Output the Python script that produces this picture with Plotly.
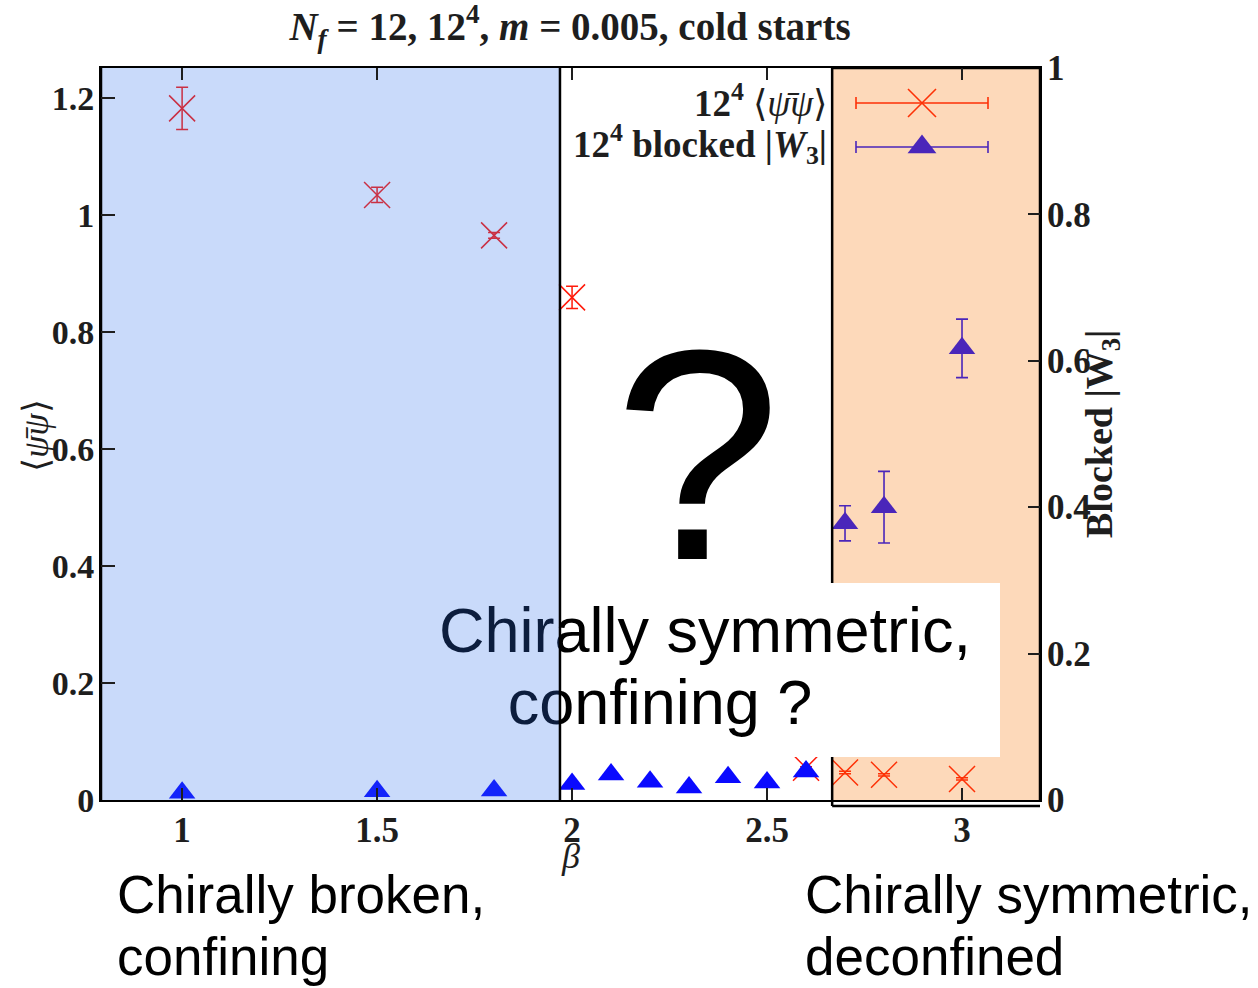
import plotly.graph_objects as go

# ---- data ---------------------------------------------------------------
# chiral condensate <psibar psi> (left axis)
beta_pbp = [1.0, 1.5, 1.8, 2.0, 2.6, 2.7, 2.8, 3.0]
pbp_val = [1.182, 1.034, 0.965, 0.859, 0.055, 0.047, 0.043, 0.036]
pbp_err = [0.036, 0.013, 0.005, 0.019, 0.002, 0.002, 0.002, 0.002]

# blocked Wilson line |W3| (right axis)
beta_w3 = [1.0, 1.5, 1.8, 2.0, 2.1, 2.2, 2.3, 2.4, 2.5, 2.6, 2.7, 2.8, 3.0]
w3_val = [0.010, 0.012, 0.013, 0.022, 0.035, 0.025, 0.017, 0.031, 0.024, 0.039, 0.378, 0.400, 0.617]
w3_err = [0.002, 0.002, 0.002, 0.002, 0.002, 0.002, 0.002, 0.002, 0.002, 0.002, 0.024, 0.049, 0.040]

# ticks
x_tick_vals = [1, 1.5, 2, 2.5, 3]
x_tick_text = ["1", "1.5", "2", "2.5", "3"]
y_tick_vals = [0, 0.2, 0.4, 0.6, 0.8, 1.0, 1.2]
y_tick_text = ["0", "0.2", "0.4", "0.6", "0.8", "1", "1.2"]
y2_tick_vals = [0, 0.2, 0.4, 0.6, 0.8, 1.0]
y2_tick_text = ["0", "0.2", "0.4", "0.6", "0.8", "1"]

# phase regions in beta
broken_region = [0.792, 1.969]
deconf_region = [2.667, 3.2]

# ---- layout geometry (pixels) --------------------------------------------
W, H = 1258, 988
PL, PR, PT, PB = 101, 1040, 68, 800
X_RANGE = [0.792, 3.2]
Y_RANGE = [0, 1.251]
Y2_RANGE = [0, 1]


def paper_x(px):
    return (px - PL) / (PR - PL)


def paper_y(py):
    return (PB - py) / (PB - PT)


def data_x(px):
    return X_RANGE[0] + (px - PL) / (PR - PL) * (X_RANGE[1] - X_RANGE[0])


def data_y2(py):
    return Y2_RANGE[0] + (PB - py) / (PB - PT) * (Y2_RANGE[1] - Y2_RANGE[0])


RED = "#ff1a0a"
BLUE = "#0a0aff"
INK = "#1e1e1e"
SERIF = "Liberation Serif"
SANS = "Liberation Sans"

fig = go.Figure()

# condensate: red crosses with vertical error bars
fig.add_trace(go.Scatter(
    x=beta_pbp, y=pbp_val, mode="markers", yaxis="y", xaxis="x",
    marker=dict(symbol="x-thin", size=26, line=dict(color=RED, width=1.5)),
    error_y=dict(type="data", array=pbp_err, color=RED, thickness=1.5, width=6),
    hoverinfo="skip", showlegend=False,
))

# blocked |W3|: blue triangles
fig.add_trace(go.Scatter(
    x=beta_w3, y=w3_val, mode="markers", yaxis="y2", xaxis="x",
    marker=dict(symbol="triangle-up", size=23, color=BLUE, line=dict(width=0)),
    error_y=dict(type="data", array=w3_err, color=BLUE, thickness=1.6, width=6),
    hoverinfo="skip", showlegend=False,
))

# legend keys (drawn in the upper right corner)
LEG_X = data_x(922)
LEG_HALF = data_x(988) - data_x(922)
fig.add_trace(go.Scatter(
    x=[LEG_X], y=[data_y2(103)], mode="markers", yaxis="y2",
    marker=dict(symbol="x-thin", size=28, line=dict(color=RED, width=1.6)),
    error_x=dict(type="data", array=[LEG_HALF], color=RED, thickness=1.6, width=6),
    hoverinfo="skip", showlegend=False,
))
fig.add_trace(go.Scatter(
    x=[LEG_X], y=[data_y2(147)], mode="markers", yaxis="y2",
    marker=dict(symbol="triangle-up", size=25, color=BLUE, line=dict(width=0)),
    error_x=dict(type="data", array=[LEG_HALF], color=BLUE, thickness=1.6, width=6),
    hoverinfo="skip", showlegend=False,
))

# deconfined region: translucent orange
x0, x1 = deconf_region
fig.add_trace(go.Scatter(
    x=[x0, x1, x1, x0, x0], y=[-0.01, -0.01, 1.0, 1.0, -0.01], yaxis="y2",
    mode="lines", fill="toself", fillcolor="rgba(248,115,0,0.27)",
    line=dict(color="black", width=2.5), hoverinfo="skip", showlegend=False,
))

# question box
bx0, bx1 = data_x(430), data_x(1000)
by0, by1 = data_y2(757), data_y2(583)
fig.add_trace(go.Scatter(
    x=[bx0, bx1, bx1, bx0, bx0], y=[by0, by0, by1, by1, by0], yaxis="y2",
    mode="lines", fill="toself", fillcolor="white",
    line=dict(color="white", width=0), hoverinfo="skip", showlegend=False,
))
fig.add_trace(go.Scatter(
    x=[data_x(705), data_x(660)],
    y=[data_y2(658 - 0.35 * 63), data_y2(730 - 0.35 * 63)],
    yaxis="y2", mode="text",
    text=["Chirally symmetric,", "confining ?"],
    textposition="middle center",
    textfont=dict(family=SANS, size=63, color="black"),
    hoverinfo="skip", showlegend=False,
))

# chirally broken region: translucent blue
x0, x1 = broken_region
fig.add_trace(go.Scatter(
    x=[x0, x1, x1, x0, x0], y=[-0.01, -0.01, 1.01, 1.01, -0.01], yaxis="y2",
    mode="lines", fill="toself", fillcolor="rgba(46,111,235,0.26)",
    line=dict(color="black", width=2.5), hoverinfo="skip", showlegend=False,
))

annotations = [
    # big question mark
    dict(text="?", x=paper_x(697), y=paper_y(560 - 0.35 * 300), xref="paper", yref="paper",
         xanchor="center", yanchor="middle", showarrow=False,
         font=dict(family=SANS, size=300, color="black")),
    # legend labels
    dict(text="<b>12<sup>4</sup></b> ⟨<i>ψ̄ψ</i>⟩", x=paper_x(829), y=paper_y(113 - 0.34 * 37),
         xref="paper", yref="paper", xanchor="right", yanchor="middle", showarrow=False,
         font=dict(family=SERIF, size=37, color=INK)),
    dict(text="<b>12<sup>4</sup> blocked |<i>W</i><sub>3</sub>|</b>", x=paper_x(829),
         y=paper_y(157 - 0.34 * 37), xref="paper", yref="paper", xanchor="right",
         yanchor="middle", showarrow=False, font=dict(family=SERIF, size=37, color=INK)),
    # axis titles
    dict(text="<i>β</i>", x=paper_x(570), y=paper_y(856), xref="paper", yref="paper",
         xanchor="center", yanchor="middle", showarrow=False,
         font=dict(family=SERIF, size=36, color=INK)),
    dict(text="⟨<i>ψ̄ψ</i>⟩", x=paper_x(36), y=paper_y(436), xref="paper", yref="paper",
         xanchor="center", yanchor="middle", showarrow=False, textangle=-90,
         font=dict(family=SERIF, size=36, color=INK)),
    dict(text="<b>Blocked |W<sub>3</sub>|</b>", x=paper_x(1102), y=paper_y(434),
         xref="paper", yref="paper", xanchor="center", yanchor="middle", showarrow=False,
         textangle=-90, font=dict(family=SERIF, size=38, color=INK)),
]

# phase labels under the axis
for txt, px, base in [("Chirally broken,", 115, 913), ("confining", 115, 975),
                      ("Chirally symmetric,", 803, 913), ("deconfined", 803, 975)]:
    annotations.append(dict(
        text=txt, x=paper_x(px), y=paper_y(base - 0.35 * 53), xref="paper", yref="paper",
        xanchor="left", yanchor="middle", showarrow=False,
        font=dict(family=SANS, size=53, color="black"),
    ))

# frame extension at the bottom of the orange region
shapes = [
    dict(type="line", xref="x", yref="paper", x0=deconf_region[0], x1=deconf_region[1],
         y0=paper_y(806), y1=paper_y(806), line=dict(color="black", width=2.5)),
    dict(type="line", xref="x", yref="paper", x0=deconf_region[0], x1=deconf_region[0],
         y0=paper_y(806), y1=0, line=dict(color="black", width=2.5)),
]

fig.update_layout(
    width=W, height=H,
    margin=dict(l=PL, r=W - PR, t=PT, b=H - PB, pad=0),
    paper_bgcolor="white", plot_bgcolor="white",
    showlegend=False,
    title=dict(
        text="<b><i>N<sub>f</sub></i> = 12, 12<sup>4</sup>, <i>m</i> = 0.005, cold starts</b>",
        x=570 / W, xanchor="center",
        y=1 - 26 / H, yanchor="middle", yref="container",
        font=dict(family=SERIF, size=39, color=INK),
    ),
    xaxis=dict(
        range=X_RANGE, tickvals=x_tick_vals, ticktext=x_tick_text,
        ticks="inside", ticklen=12, tickwidth=1.5, tickcolor=INK,
        showline=True, linecolor="black", linewidth=2, mirror="ticks",
        showgrid=False, zeroline=False,
        tickfont=dict(family=SERIF, size=35, color=INK, weight="bold"),
        ticklabelstandoff=-2,
    ),
    yaxis=dict(
        range=Y_RANGE, tickvals=y_tick_vals, ticktext=y_tick_text,
        ticks="inside", ticklen=14, tickwidth=1.5, tickcolor=INK,
        showline=True, linecolor="black", linewidth=2,
        showgrid=False, zeroline=False,
        tickfont=dict(family=SERIF, size=34, color=INK, weight="bold"),
        ticklabelstandoff=-2,
    ),
    yaxis2=dict(
        range=Y2_RANGE, overlaying="y", side="right",
        tickvals=y2_tick_vals, ticktext=y2_tick_text,
        ticks="inside", ticklen=12, tickwidth=1.5, tickcolor=INK,
        showline=True, linecolor="black", linewidth=2,
        showgrid=False, zeroline=False,
        tickfont=dict(family=SERIF, size=35, color=INK, weight="bold"),
        ticklabelstandoff=-2,
    ),
    annotations=annotations,
    shapes=shapes,
)

fig.write_html("out.html")
